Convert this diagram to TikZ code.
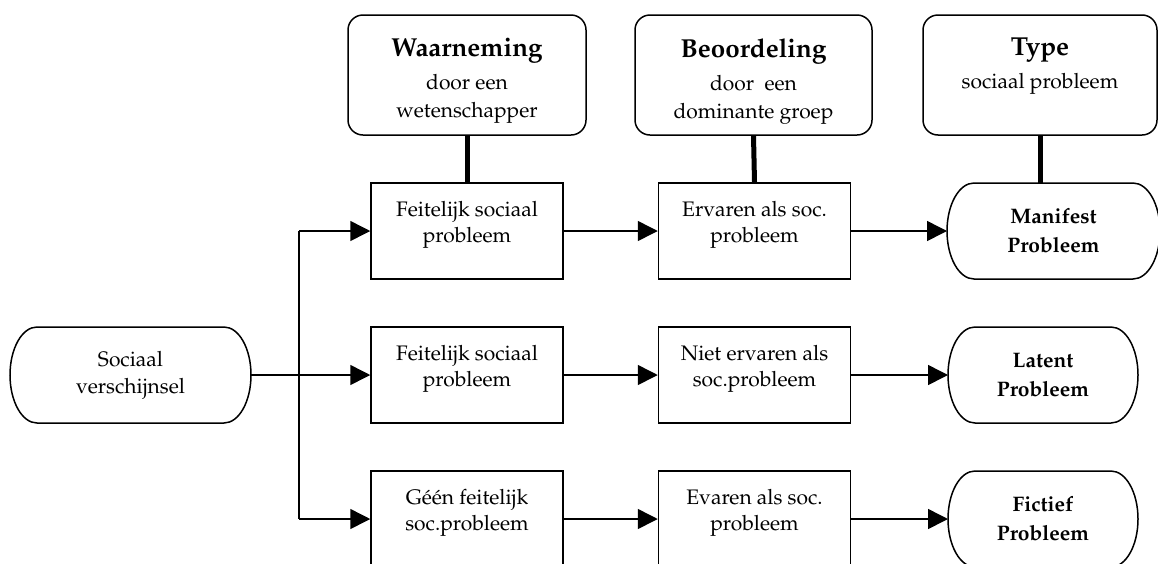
\documentclass[tikz,border=0pt]{standalone}
\usepackage[T1]{fontenc}
\usepackage{mathpazo}
\usetikzlibrary{positioning,arrows.meta}

\begin{document}
\begin{tikzpicture}[x=1pt,y=1pt,
    kopnode/.style={rectangle, draw, line width=1.5pt, rounded corners=15pt, minimum width=238pt, minimum height=120pt},
    koptekst/.style={anchor=north, align=center, inner sep=0pt, font=\fontsize{21}{28}\selectfont},
    stapnode/.style={rectangle, draw, line width=1.5pt, minimum width=192pt, minimum height=96pt, align=center, font=\fontsize{21}{26}\selectfont},
    eindnode/.style={rectangle, outer sep=0pt, minimum width=190pt, minimum height=96pt, align=center, font=\bfseries\fontsize{21}{29}\selectfont},
    rand/.style={line width=1.5pt},
    pijl/.style={-{Triangle[length=20pt,width=20pt]}, line width=1.5pt},
    balk/.style={line width=5pt},
    ]
    \useasboundingbox (0,0) rectangle (1158,-563);
    \clip (0,0) rectangle (1158,-563);

    %Kopjes
    \node[kopnode]                      (waarn)  at (467,-75)    {};
    \node[kopnode, minimum width=237pt] (beoord) at (753.5,-75)  {};
    \node[kopnode, minimum width=234pt] (type)   at (1040,-75)   {};
    \node[koptekst] (waarntxt)  at ([yshift=-24pt]waarn.north)  {{\bfseries\fontsize{26}{28}\selectfont Waarneming}\\[5pt]door een\\wetenschapper};
    \node[koptekst] (beoordtxt) at ([yshift=-24pt]beoord.north) {{\bfseries\fontsize{26}{28}\selectfont Beoordeling}\\[5pt]door\ \ een\\dominante groep};
    \node[koptekst] (typetxt)   at ([yshift=-24pt]type.north)   {{\bfseries\fontsize{26}{28}\selectfont Type}\\[5pt]sociaal probleem};

    %Nodes
    \node[eindnode, minimum width=241pt, font=\fontsize{21}{27}\selectfont] (bron) at (130.5,-375) {Sociaal\\verschijnsel};

    \node[stapnode]  (feit1)  at (467,-231)   {Feitelijk sociaal\\probleem\\[-8.7pt]\mbox{}};
    \node[stapnode]  (erv1)   at (754.5,-231) {Ervaren als soc.\\probleem\\[-8.7pt]\mbox{}};
    \node[eindnode, minimum width=213pt] (manifest) at (1053.5,-231) {Manifest\\Probleem};

    \node[stapnode]  (feit2)  at (467,-375)   {Feitelijk sociaal\\probleem\\[-8.7pt]\mbox{}};
    \node[stapnode]  (erv2)   at (754.5,-375) {Niet ervaren als\\soc.probleem\\[-8.7pt]\mbox{}};
    \node[eindnode]  (latent) at (1043,-375)  {Latent\\Probleem};

    \node[stapnode]  (feit3)  at (467,-519)   {G\'e\'en feitelijk\\soc.probleem\\[-8.7pt]\mbox{}};
    \node[stapnode]  (erv3)   at (754.5,-519) {Evaren als soc.\\probleem\\[-8.7pt]\mbox{}};
    \node[eindnode]  (fictief) at (1043,-519) {Fictief\\Probleem};

    %Eindvormen
    \foreach \n in {bron,manifest,latent,fictief}
        \draw[rand] ([xshift=27pt]\n.north west) -- ([xshift=-27pt]\n.north east)
            arc[start angle=90, end angle=-90, x radius=27pt, y radius=48pt]
            -- ([xshift=27pt]\n.south west)
            arc[start angle=270, end angle=90, x radius=27pt, y radius=48pt] -- cycle;

    \coordinate (splitsboven) at (299,-231);
    \coordinate (splitsonder) at (299,-519);

    %Lines
    \draw[balk] (waarn.south) -- (feit1.north);
    \draw[balk] (beoord.south) -- (erv1.north);
    \draw[balk] (type.south) -- (type.south |- manifest.north);

    \draw[pijl] (bron.east) -- (feit2.west);
    \draw[rand] (splitsboven) -- (splitsonder);
    \draw[pijl] (splitsboven) -- (feit1.west);
    \draw[pijl] (splitsonder) -- (feit3.west);

    \draw[pijl] (feit1.east) -- (erv1.west);
    \draw[pijl] (erv1.east) -- (manifest.west);
    \draw[pijl] (feit2.east) -- (erv2.west);
    \draw[pijl] (erv2.east) -- (latent.west);
    \draw[pijl] (feit3.east) -- (erv3.west);
    \draw[pijl] (erv3.east) -- (fictief.west);

    \end{tikzpicture}
\end{document}
